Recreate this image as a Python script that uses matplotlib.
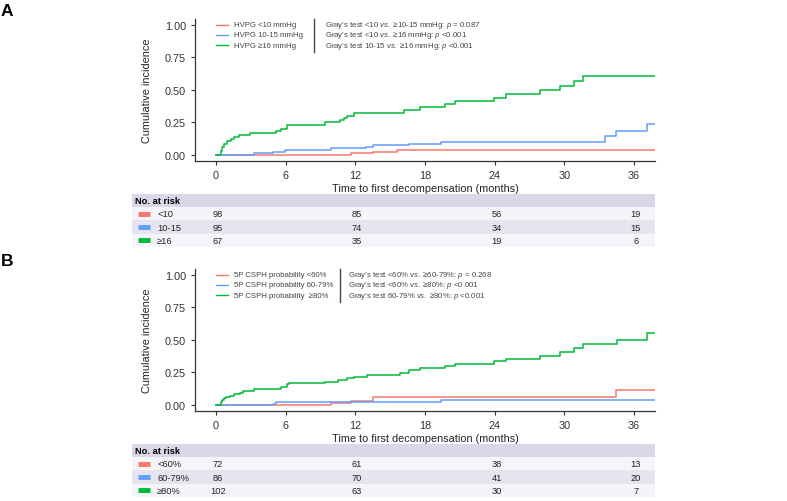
import matplotlib
matplotlib.use("Agg")
import matplotlib.pyplot as plt

plt.rcParams['font.family'] = ['Liberation Sans', 'DejaVu Sans']
plt.rcParams['mathtext.fontset'] = 'custom'
plt.rcParams['mathtext.rm'] = 'Liberation Sans'
plt.rcParams['mathtext.it'] = 'Liberation Sans:italic'

# ---------------------------
# DATA
# ---------------------------

colors = ['#F8766D', '#619CFF', '#00BA38']
risk_times = [0, 12, 24, 36]

# Panel A - HVPG
a_legend = ['HVPG <10 mmHg', 'HVPG 10-15 mmHg', 'HVPG ≥16 mmHg']
a_tests = ['Gray’s test <10 $\\it{vs.}$ ≥10-15 mmHg: $\\it{p}$ = 0.087',
           'Gray’s test <10 $\\it{vs.}$ ≥16 mmHg: $\\it{p}$ <0.001',
           'Gray’s test 10-15 $\\it{vs.}$ ≥16 mmHg: $\\it{p}$ <0.001']
a_groups = ['<10', '10-15', '≥16']
a_risk = [[98, 85, 56, 19], [95, 74, 34, 15], [67, 35, 19, 6]]

a_red_t = [0, 11.6, 13.5, 15.6, 37.8]
a_red_y = [0, 0.013, 0.023, 0.038, 0.038]
a_blue_t = [0, 3.3, 4.9, 5.9, 9.9, 12.9, 13.5, 16.6, 19.4, 33.5, 34.4, 37.1, 37.8]
a_blue_y = [0, 0.011, 0.023, 0.036, 0.049, 0.059, 0.072, 0.085, 0.10, 0.141, 0.185, 0.234, 0.234]
a_green_t = [0, 0.4, 0.55, 0.72, 0.98, 1.26, 1.55, 2.0, 2.9, 5.2, 5.6, 6.1, 9.4, 10.7, 11.0,
             11.3, 11.9, 16.2, 17.6, 19.7, 20.6, 23.9, 25.0, 27.9, 29.6, 30.8, 31.6, 37.8]
a_green_y = [0, 0.03, 0.057, 0.082, 0.105, 0.12, 0.134, 0.149, 0.167, 0.185, 0.2, 0.231, 0.249,
             0.267, 0.285, 0.30, 0.323, 0.34, 0.364, 0.39, 0.413, 0.438, 0.469, 0.495, 0.528,
             0.567, 0.608, 0.608]

# Panel B - 5P CSPH probability
b_legend = ['5P CSPH probability <60%', '5P CSPH probability 60-79%', '5P CSPH probability  ≥80%']
b_tests = ['Gray’s test <60% $\\it{vs.}$ ≥60-79%: $\\it{p}$ = 0.268',
           'Gray’s test <60% $\\it{vs.}$ ≥80%: $\\it{p}$ <0.001',
           'Gray’s test 60-79% $\\it{vs.}$ ≥80%: $\\it{p}$ <0.001']
b_groups = ['<60%', '60-79%', '≥80%']
b_risk = [[72, 61, 38, 13], [86, 70, 41, 20], [102, 63, 30, 7]]

b_red_t = [0, 9.9, 11.6, 13.55, 34.4, 37.8]
b_red_y = [0, 0.01, 0.028, 0.059, 0.115, 0.115]
b_blue_t = [0, 4.9, 5.2, 19.4, 37.8]
b_blue_y = [0, 0.008, 0.021, 0.039, 0.039]
b_green_t = [0, 0.4, 0.55, 0.72, 0.9, 1.2, 1.55, 2.07, 2.35, 3.3, 5.56, 6.1, 6.3, 9.4, 10.5,
             11.3, 11.9, 13.0, 15.8, 16.6, 17.6, 19.7, 20.6, 23.9, 25.0, 27.9, 29.6, 30.8,
             31.6, 34.5, 37.1, 37.8]
b_green_y = [0, 0.018, 0.036, 0.049, 0.062, 0.069, 0.08, 0.092, 0.103, 0.121, 0.138, 0.159,
             0.164, 0.177, 0.19, 0.205, 0.215, 0.228, 0.244, 0.269, 0.282, 0.30, 0.315, 0.333,
             0.351, 0.377, 0.403, 0.434, 0.467, 0.50, 0.549, 0.549]

# ---------------------------
# LAYOUT HELPERS
# ---------------------------

W, H = 787, 502
XMIN, XMAX = -1.81, 37.8


def box(x0, y0, x1, y1):
    # pixel box (top-left origin) -> figure fraction rect
    return [x0 / W, 1 - y1 / H, (x1 - x0) / W, (y1 - y0) / H]


def draw_panel(fig, dy, letter, curves, legend, tests, groups, risk, sep_x, test_x):
    fig.text(1 / W, 1 - (12 + dy) / H, letter, fontsize=12.5, fontweight='bold',
             va='center', ha='left')

    ax = fig.add_axes(box(195, 20 + dy, 655, 162.3 + dy))
    for (t, y), c in zip(curves, colors):
        ax.step(t, y, where='post', color=c, lw=1.1)

    ax.set_xlim(XMIN, XMAX)
    ax.set_ylim(-0.051, 1.044)
    ax.set_xticks([0, 6, 12, 18, 24, 30, 36])
    ax.set_yticks([0, 0.25, 0.5, 0.75, 1.0])
    ax.set_yticklabels(['0.00', '0.25', '0.50', '0.75', '1.00'])
    ax.tick_params(labelsize=7.8, colors='#333333', length=3, width=0.8)
    for s in ['top', 'right']:
        ax.spines[s].set_visible(False)
    for s in ['left', 'bottom']:
        ax.spines[s].set_color('#333333')
        ax.spines[s].set_linewidth(0.9)
    ax.set_ylabel('Cumulative incidence', fontsize=7.8, color='#222222', labelpad=9)
    ax.set_xlabel('Time to first decompensation (months)', fontsize=7.8, color='#222222',
                  labelpad=2)

    # legend + test results
    ys = [1.0, 0.921, 0.843]
    for i in range(3):
        ax.plot([0, 1.03], [ys[i], ys[i]], color=colors[i], lw=1.0)
        ax.text(1.55, ys[i], legend[i], fontsize=5.6, color='#444444', va='center')
        ax.text(test_x, ys[i], tests[i], fontsize=5.6, color='#444444', va='center')
    ax.plot([sep_x, sep_x], [1.044, 0.79], color='#444444', lw=1.0, clip_on=False)

    # risk table
    tx = fig.add_axes(box(132, 194.7 + dy, 655, 248 + dy))
    tx.set_xlim(-7.235, XMAX)
    tx.set_ylim(4, 0)
    tx.axis('off')
    row_cols = ['#D9D8E8', '#F5F5F9', '#E5E4EF', '#F5F5F9']
    for i, rc in enumerate(row_cols):
        tx.axhspan(i, i + 1, color=rc, lw=0)
    tx.text(0.006, 0.5, 'No. at risk', transform=tx.get_yaxis_transform(), va='center',
            fontsize=6.7, fontweight='bold')
    for i in range(3):
        yc = i + 1.5
        tx.plot([-6.72, -5.68], [yc, yc], color=colors[i], lw=3.5, solid_capstyle='butt')
        tx.text(-5.08, yc, groups[i], fontsize=6.7, va='center', color='#222222')
        for t, n in zip(risk_times, risk[i]):
            tx.text(t + 0.15, yc, str(n), fontsize=6.7, va='center', ha='center',
                    color='#222222')


fig = plt.figure(figsize=(W / 100, H / 100), dpi=100)

draw_panel(fig, 0, 'A',
           [(a_red_t, a_red_y), (a_blue_t, a_blue_y), (a_green_t, a_green_y)],
           a_legend, a_tests, a_groups, a_risk, 8.44, 9.39)
draw_panel(fig, 250, 'B',
           [(b_red_t, b_red_y), (b_blue_t, b_blue_y), (b_green_t, b_green_y)],
           b_legend, b_tests, b_groups, b_risk, 10.68, 11.37)

fig.savefig('out.png', dpi=100)
